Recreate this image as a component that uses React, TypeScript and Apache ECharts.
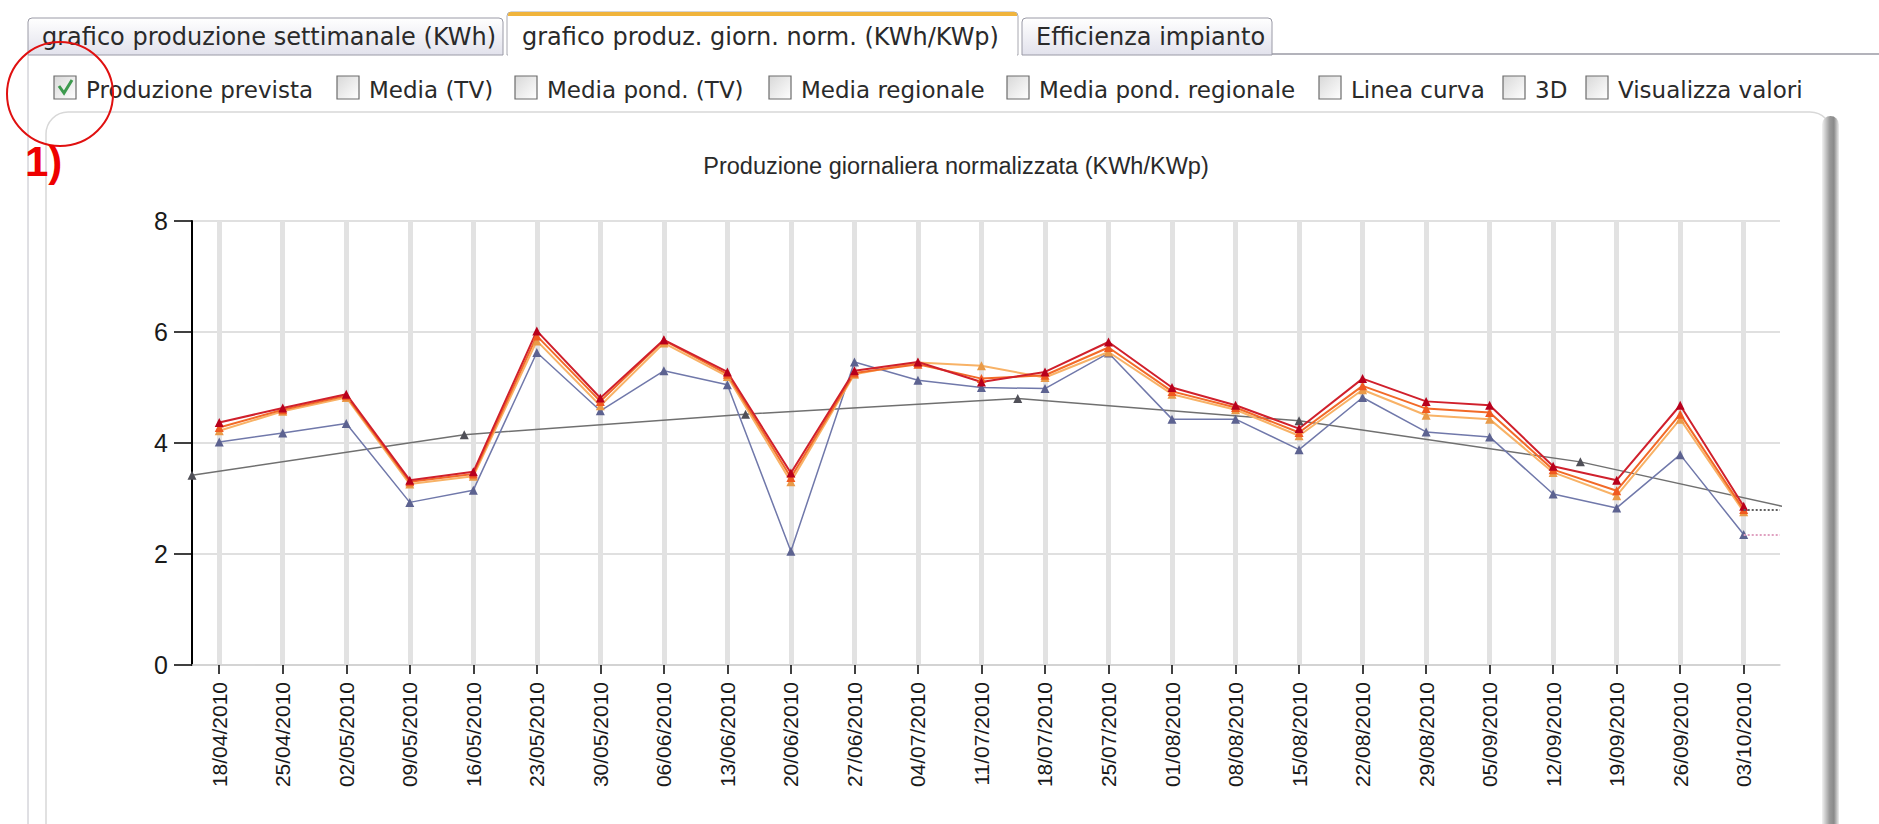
import React, { useEffect, useRef } from 'react';
import * as echarts from 'echarts';

// ---------- DATA ----------
const weekLabels = [
  '18/04/2010', '25/04/2010', '02/05/2010', '09/05/2010', '16/05/2010',
  '23/05/2010', '30/05/2010', '06/06/2010', '13/06/2010', '20/06/2010',
  '27/06/2010', '04/07/2010', '11/07/2010', '18/07/2010', '25/07/2010',
  '01/08/2010', '08/08/2010', '15/08/2010', '22/08/2010', '29/08/2010',
  '05/09/2010', '12/09/2010', '19/09/2010', '26/09/2010', '03/10/2010',
];
const redValues = [
  4.37, 4.63, 4.88, 3.33, 3.48, 6.02, 4.81, 5.86, 5.28, 3.46,
  5.30, 5.46, 5.10, 5.28, 5.82, 5.00, 4.68, 4.26, 5.16, 4.75,
  4.68, 3.58, 3.33, 4.68, 2.86,
];
const orangeValues = [
  4.28, 4.60, 4.85, 3.30, 3.44, 5.93, 4.75, 5.85, 5.24, 3.38,
  5.26, 5.42, 5.16, 5.22, 5.72, 4.93, 4.64, 4.19, 5.03, 4.62,
  4.55, 3.52, 3.14, 4.52, 2.80,
];
const lightOrangeValues = [
  4.22, 4.57, 4.82, 3.26, 3.40, 5.84, 4.67, 5.80, 5.20, 3.30,
  5.24, 5.45, 5.39, 5.18, 5.64, 4.88, 4.60, 4.13, 4.96, 4.50,
  4.43, 3.47, 3.05, 4.43, 2.76,
];
const blueValues = [
  4.02, 4.18, 4.35, 2.93, 3.15, 5.63, 4.58, 5.30, 5.05, 2.05,
  5.46, 5.13, 5.00, 4.98, 5.62, 4.43, 4.43, 3.88, 4.82, 4.20,
  4.11, 3.08, 2.83, 3.79, 2.35,
];
const trendLabels = ['15/04/2010', '15/05/2010', '15/06/2010', '15/07/2010', '15/08/2010', '15/09/2010', '15/10/2010'];
const trendValues = [3.42, 4.15, 4.52, 4.80, 4.40, 3.66, 2.58];
const axisStart = '15/04/2010';
const axisEnd = '07/10/2010';
const yMin = 0;
const yMax = 8;
const yStep = 2;

const chartTitle = 'Produzione giornaliera normalizzata (KWh/KWp)';
const tabLabels = [
  'grafico produzione settimanale (KWh)',
  'grafico produz. giorn. norm. (KWh/KWp)',
  'Efficienza impianto',
];
const checkboxLabels = [
  'Produzione prevista', 'Media (TV)', 'Media pond. (TV)', 'Media regionale',
  'Media pond. regionale', 'Linea curva', '3D', 'Visualizza valori',
];
const checkboxChecked = [true, false, false, false, false, false, false, false];
const annotationText = '1)';

// ---------- LAYOUT (positions, not data) ----------
const tabBoxes = [
  { x: 28, y: 18, w: 475, h: 37, text: 42 },
  { x: 507, y: 12, w: 511, h: 43, text: 522 },
  { x: 1022, y: 18, w: 250, h: 37, text: 1036 },
];
const checkboxX = [54, 337, 515, 769, 1007, 1319, 1503, 1586];

const DAY = 86400000;
const toTs = (s: string) => {
  const [d, m, y] = s.split('/').map(Number);
  return Date.UTC(y, m - 1, d);
};
const startTs = toTs(axisStart);
const toDay = (s: string) => Math.round((toTs(s) - startTs) / DAY);
const pad = (n: number) => (n < 10 ? '0' + n : '' + n);
const fmtDay = (v: number) => {
  const dt = new Date(startTs + Math.round(v) * DAY);
  return pad(dt.getUTCDate()) + '/' + pad(dt.getUTCMonth() + 1) + '/' + dt.getUTCFullYear();
};

const UI_FONT = 'DejaVu Sans, Verdana, sans-serif';
const CHART_FONT = 'Liberation Sans, Arial, sans-serif';

export default function App() {
  const ref = useRef<HTMLDivElement>(null);

  useEffect(() => {
    if (!ref.current) return;
    const chart = echarts.init(ref.current, null, { renderer: 'svg' });
    const weekDays = weekLabels.map(toDay);
    const lastDay = weekDays[weekDays.length - 1];
    const endDay = toDay(axisEnd);
    const pairs = (vals: number[]) => vals.map((v, i) => [weekDays[i], v]);

    const graphics: any[] = [];
    // panel
    graphics.push({
      type: 'rect', z: -10,
      shape: { x: 46, y: 112, width: 1786, height: 760, r: [22, 22, 0, 0] },
      style: { fill: '#fff', stroke: '#d8d8d8', lineWidth: 1.5 },
    });
    graphics.push({
      type: 'rect', z: -9,
      shape: { x: 1822, y: 116, width: 17, height: 720, r: [9, 9, 0, 0] },
      style: {
        fill: {
          type: 'linear', x: 0, y: 0, x2: 1, y2: 0,
          colorStops: [
            { offset: 0, color: '#f2f2f2' },
            { offset: 0.45, color: '#9a9a9a' },
            { offset: 0.7, color: '#8a8a8a' },
            { offset: 1, color: '#eeeeee' },
          ],
        },
      },
    });
    // container left border + tab baseline
    graphics.push({ type: 'line', shape: { x1: 28, y1: 55, x2: 28, y2: 824 }, style: { stroke: '#c0c0c8', lineWidth: 1 } });
    graphics.push({ type: 'line', shape: { x1: 1272, y1: 54, x2: 1879, y2: 54 }, style: { stroke: '#9a9aa4', lineWidth: 1.5 } });
    // tabs
    tabBoxes.forEach((t, i) => {
      const active = i === 1;
      graphics.push({
        type: 'rect',
        shape: { x: t.x, y: t.y, width: t.w, height: t.h, r: [4, 4, 0, 0] },
        style: active
          ? { fill: '#ffffff', stroke: '#a8a8b0', lineWidth: 1 }
          : {
              fill: {
                type: 'linear', x: 0, y: 0, x2: 0, y2: 1,
                colorStops: [
                  { offset: 0, color: '#ffffff' },
                  { offset: 1, color: '#e2e2ec' },
                ],
              },
              stroke: '#9a9aa6', lineWidth: 1,
            },
      });
      if (active) {
        graphics.push({
          type: 'rect',
          shape: { x: t.x + 1, y: t.y, width: t.w - 2, height: 4, r: [3, 3, 0, 0] },
          style: { fill: '#f0b43c' },
        });
        graphics.push({ type: 'line', shape: { x1: t.x + 1, y1: t.y + t.h, x2: t.x + t.w - 1, y2: t.y + t.h }, style: { stroke: '#ffffff', lineWidth: 2 } });
      }
      graphics.push({
        type: 'text',
        style: {
          x: t.text, y: 37, text: tabLabels[i], fill: '#2a2a2a',
          font: `24px ${UI_FONT}`, verticalAlign: 'middle', align: 'left',
        },
      });
    });
    // checkboxes
    checkboxLabels.forEach((lab, i) => {
      const x = checkboxX[i];
      graphics.push({
        type: 'rect',
        shape: { x, y: 76, width: 22, height: 23 },
        style: {
          fill: {
            type: 'linear', x: 0, y: 0, x2: 1, y2: 1,
            colorStops: [
              { offset: 0, color: '#d8d8d8' },
              { offset: 1, color: '#ffffff' },
            ],
          },
          stroke: '#6c6c6c', lineWidth: 1.2,
        },
      });
      if (checkboxChecked[i]) {
        graphics.push({
          type: 'polyline',
          shape: { points: [[x + 5, 86], [x + 10, 93], [x + 18, 80]] },
          style: { stroke: '#3d9a4e', lineWidth: 3, fill: null },
        });
      }
      graphics.push({
        type: 'text',
        style: {
          x: x + 32, y: 90, text: lab, fill: '#2a2a2a',
          font: `23px ${UI_FONT}`, verticalAlign: 'middle', align: 'left',
        },
      });
    });
    // annotation
    graphics.push({
      type: 'ellipse', z: 100,
      shape: { cx: 60, cy: 94, rx: 53, ry: 52 },
      style: { fill: null, stroke: '#e01010', lineWidth: 2 },
    });
    graphics.push({
      type: 'text', z: 100,
      style: {
        x: 25, y: 161, text: annotationText, fill: '#ee0000',
        font: `bold 42px ${CHART_FONT}`, verticalAlign: 'middle', align: 'left',
      },
    });

    const mk = (name: string, vals: any[], line: string, sym: string, width: number, tail?: string) => ({
      name, type: 'line', data: vals,
      symbol: 'triangle', symbolSize: 9,
      lineStyle: { color: line, width },
      itemStyle: { color: sym },
      clip: true,
      markLine: tail
        ? {
            silent: true, symbol: 'none', label: { show: false },
            lineStyle: { color: tail, type: 'dotted', width: 2 },
            data: [[
              { coord: [lastDay, vals[vals.length - 1][1]] },
              { coord: [endDay, vals[vals.length - 1][1]] },
            ]],
          }
        : undefined,
    });

    chart.setOption({
      animation: false,
      backgroundColor: '#ffffff',
      title: {
        text: chartTitle, left: 951, top: 149, textAlign: 'center',
        textStyle: { fontFamily: CHART_FONT, fontSize: 23.5, fontWeight: 'normal', color: '#2a2a2a' },
      },
      grid: { left: 192, right: 99, top: 221, bottom: 159, containLabel: false, outerBoundsMode: 'none' },
      xAxis: {
        type: 'value',
        min: 0, max: endDay,
        axisLine: { show: true, onZero: false, lineStyle: { color: '#cfcfcf', width: 1.5 } },
        axisTick: { show: true, customValues: weekDays, length: 9, lineStyle: { color: '#000', width: 1.5 } },
        axisLabel: {
          show: true, customValues: weekDays, rotate: 90, fontSize: 21, fontFamily: CHART_FONT,
          color: '#1a1a1a', margin: 17, formatter: (v: number) => fmtDay(v), hideOverlap: false,
        },
        splitLine: { show: true, lineStyle: { color: '#e2e2e2', width: 5 } },
      },
      yAxis: {
        type: 'value', min: yMin, max: yMax, interval: yStep,
        axisLine: { show: true, lineStyle: { color: '#000', width: 2 } },
        axisTick: { show: true, length: 18, lineStyle: { color: '#000', width: 1.5 } },
        axisLabel: { fontSize: 25, color: '#1a1a1a', margin: 24, fontFamily: CHART_FONT },
        splitLine: { show: true, lineStyle: { color: '#d6d6d6', width: 1.5 } },
      },
      graphic: graphics,
      series: [
        mk('Linea di tendenza', trendLabels.map((d, i) => [toDay(d), trendValues[i]]), '#707070', '#505058', 1.5),
        mk('Media regionale', pairs(blueValues), '#7078aa', '#5c6290', 1.5, '#e0a0c0'),
        mk('Produzione prevista', pairs(lightOrangeValues), '#f8b266', '#e89a48', 2),
        mk('Media (TV)', pairs(orangeValues), '#f26a28', '#f05a20', 2, '#606060'),
        mk('Produzione', pairs(redValues), '#d0202c', '#b8001c', 2),
      ],
    });
    return () => chart.dispose();
  }, []);

  return (
    <div
      ref={ref}
      style={{ position: 'fixed', left: 0, top: 0, width: 1879, height: 824, background: '#fff' }}
    />
  );
}
